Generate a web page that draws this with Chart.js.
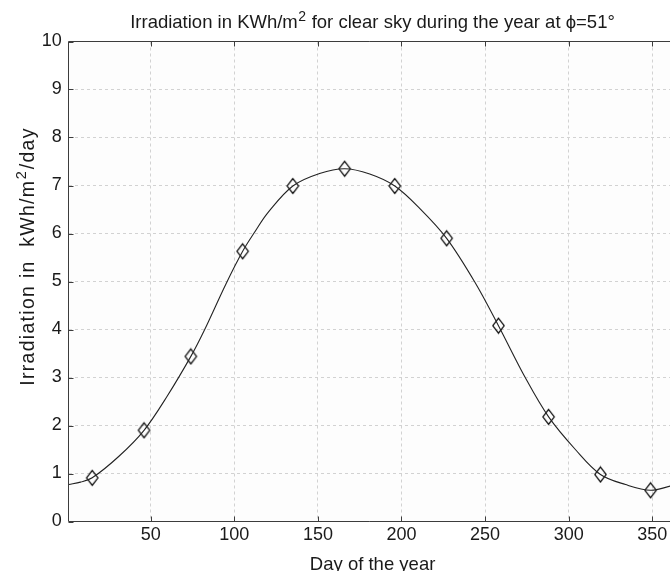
<!DOCTYPE html>
<html><head><meta charset="utf-8">
<script src="https://cdn.jsdelivr.net/npm/chart.js@4.4.1/dist/chart.umd.min.js"></script>
<style>html,body{margin:0;padding:0;background:#fff;overflow:hidden}#c{display:block}</style>
</head><body>
<canvas id="c" width="670" height="571"></canvas>
<script>
// ---- data ----
const markerDays   = [15, 46, 74, 105, 135, 166, 196, 227, 258, 288, 319, 349];
const markerValues = [0.91, 1.90, 3.44, 5.63, 6.99, 7.35, 6.99, 5.90, 4.08, 2.18, 0.98, 0.65];
const curveDays    = [1, 8, 15, 31, 46, 60, 74, 82, 95, 105, 112, 120, 135, 151, 166, 181, 196, 211, 227, 244, 258, 274, 288, 304, 319, 334, 349, 361];
const curveValues  = [0.77, 0.82, 0.91, 1.36, 1.90, 2.62, 3.44, 3.98, 4.95, 5.63, 6.02, 6.43, 6.99, 7.25, 7.35, 7.24, 6.99, 6.52, 5.90, 4.98, 4.08, 3.00, 2.18, 1.50, 0.98, 0.77, 0.65, 0.74];
const xTickValues  = [50, 100, 150, 200, 250, 300, 350];
const yTickValues  = [0, 1, 2, 3, 4, 5, 6, 7, 8, 9, 10];
const titleParts   = ['Irradiation in KWh/m', '2', ' for clear sky during the year at \u03d5=51\u00b0'];
const yLabelParts  = ['Irradiation in  kWh/m', '2', '/day'];
const xLabel       = 'Day of the year';

const FONT = '"Liberation Sans", Arial, sans-serif';
const FS = 18.5;

// diamond marker image
const diamond = document.createElement('canvas');
diamond.width = 15; diamond.height = 18;
(function(){
  const g = diamond.getContext('2d');
  g.strokeStyle = '#000'; g.lineWidth = 1.2;
  g.beginPath();
  g.moveTo(7.5, 1.6); g.lineTo(13.2, 9); g.lineTo(7.5, 16.4); g.lineTo(1.8, 9); g.closePath();
  g.stroke();
})();

function drawSup(ctx, parts, size, supSize, rise, spacing) {
  ctx.letterSpacing = (spacing || 0) + 'px';
  ctx.font = size + 'px ' + FONT;
  const w0 = ctx.measureText(parts[0]).width, w2 = ctx.measureText(parts[2]).width;
  ctx.font = supSize + 'px ' + FONT;
  const w1 = ctx.measureText(parts[1]).width;
  let x = -(w0 + w1 + w2) / 2;
  ctx.textAlign = 'left'; ctx.textBaseline = 'alphabetic';
  ctx.font = size + 'px ' + FONT; ctx.fillText(parts[0], x, 0); x += w0;
  ctx.font = supSize + 'px ' + FONT; ctx.fillText(parts[1], x + 0.5, -rise); x += w1 + 1;
  ctx.font = size + 'px ' + FONT; ctx.fillText(parts[2], x, 0);
  ctx.letterSpacing = '0px';
}

const decor = {
  id: 'decor',
  beforeDraw(chart) {
    const {ctx, chartArea: a} = chart;
    ctx.save();
    ctx.fillStyle = '#ffffff';
    ctx.fillRect(0, 0, chart.width, chart.height);
    ctx.fillStyle = '#fdfdfd';
    ctx.fillRect(a.left, a.top, a.right - a.left, a.bottom - a.top);
    ctx.restore();
  },
  afterDraw(chart) {
    const {ctx, chartArea: a, scales} = chart;
    ctx.save();
    const L = Math.floor(a.left) + 0.5, T = Math.floor(a.top) + 0.5, B = Math.floor(a.bottom) + 0.5;
    ctx.strokeStyle = '#3c3c3c'; ctx.lineWidth = 1;
    ctx.beginPath();
    ctx.moveTo(a.right + 2, T); ctx.lineTo(L, T); ctx.lineTo(L, B); ctx.lineTo(a.right + 2, B);
    ctx.stroke();
    ctx.beginPath();
    xTickValues.forEach(v => {
      const px = Math.round(scales.x.getPixelForValue(v)) + 0.5;
      ctx.moveTo(px, B); ctx.lineTo(px, B - 5);
      ctx.moveTo(px, T); ctx.lineTo(px, T + 5);
    });
    yTickValues.forEach(v => {
      const py = Math.round(scales.y.getPixelForValue(v)) + 0.5;
      ctx.moveTo(L, py); ctx.lineTo(L + 5, py);
    });
    ctx.stroke();
    ctx.fillStyle = '#1a1a1a';
    ctx.save(); ctx.translate(372, 28.3); drawSup(ctx, titleParts, FS, 14, 7.5, 0); ctx.restore();
    ctx.save(); ctx.translate(33.6, 257); ctx.rotate(-Math.PI / 2); drawSup(ctx, yLabelParts, 19.5, 14.5, 7.5, 1.3); ctx.restore();
    ctx.font = FS + 'px ' + FONT; ctx.textAlign = 'center'; ctx.textBaseline = 'alphabetic';
    ctx.fillText(xLabel, 372.6, 569.5);
    ctx.restore();
  }
};

new Chart(document.getElementById('c'), {
  type: 'line',
  data: {
    datasets: [
      {
        label: 'curve',
        data: curveDays.map((d, i) => ({x: d, y: curveValues[i]})),
        borderColor: '#222', borderWidth: 1.1,
        pointRadius: 0, fill: false,
        tension: 0.35
      },
      {
        label: 'points',
        data: markerDays.map((d, i) => ({x: d, y: markerValues[i]})),
        showLine: false,
        pointStyle: diamond, pointRadius: 7
      }
    ]
  },
  options: {
    responsive: false, animation: false,
    layout: {autoPadding: false, padding: {top: 41.5, left: 0, right: 0, bottom: 0}},
    plugins: {legend: {display: false}, title: {display: false}, tooltip: {enabled: false}},
    scales: {
      x: {
        type: 'linear', min: 1, max: 360.6,
        afterBuildTicks(s) { s.ticks = xTickValues.map(v => ({value: v})); },
        afterFit(s) { s.height = 49.5; s.paddingLeft = 0; s.paddingRight = 0; },
        grid: {color: '#d2d2d2', lineWidth: 1, drawTicks: false},
        border: {display: false, dash: [3, 3]},
        ticks: {padding: 3, color: '#1a1a1a', font: {family: FONT, size: 18}, maxRotation: 0, autoSkip: false}
      },
      y: {
        type: 'linear', min: 0, max: 10,
        afterBuildTicks(s) { s.ticks = yTickValues.map(v => ({value: v})); },
        afterFit(s) { s.width = 68.8; s.paddingTop = 0; s.paddingBottom = 0; },
        grid: {color: '#d2d2d2', lineWidth: 1, drawTicks: false},
        border: {display: false, dash: [3, 3]},
        ticks: {padding: 7, color: '#1a1a1a', font: {family: FONT, size: 18}}
      }
    }
  },
  plugins: [decor]
});
</script>
</body></html>
